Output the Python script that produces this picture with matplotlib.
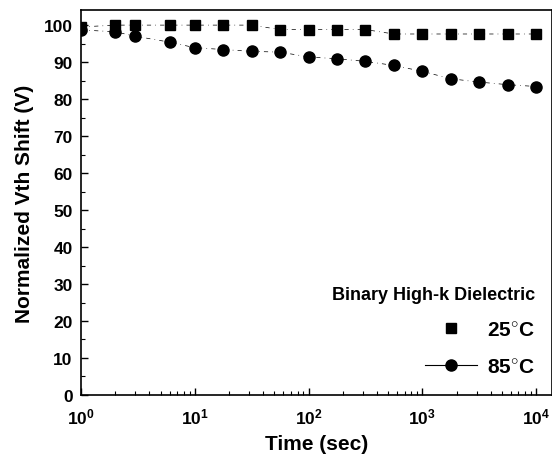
import numpy as np
import matplotlib.pyplot as plt
from matplotlib.lines import Line2D
from matplotlib.ticker import FuncFormatter, LogLocator, MultipleLocator

plt.rcParams['font.family'] = ['Liberation Sans', 'DejaVu Sans']
plt.rcParams['font.weight'] = 'bold'
plt.rcParams['mathtext.fontset'] = 'custom'
plt.rcParams['mathtext.rm'] = 'Liberation Sans:bold'
plt.rcParams['mathtext.bf'] = 'Liberation Sans:bold'
plt.rcParams['mathtext.default'] = 'bf'

# tiempos de medida (s)
tiempo = [1, 2, 3, 6, 10, 17.8, 31.6, 56.2, 100, 178, 316, 562, 1000, 1778, 3162, 5623, 10000]
# desplazamiento normalizado de Vth a 25 C y 85 C
vth_25 = [99.5, 100, 100, 100, 100, 100, 100, 98.8, 98.8, 98.8, 98.8, 97.6, 97.6, 97.6, 97.6, 97.6, 97.6]
vth_85 = [98.7, 98.2, 97.0, 95.4, 93.9, 93.4, 92.9, 92.7, 91.4, 90.9, 90.2, 89.1, 87.5, 85.5, 84.6, 83.9, 83.4]

fig = plt.figure(figsize=(5.52, 4.64), dpi=100)
ax = fig.add_axes([0.1467, 0.1466, 0.8533, 0.829])

estilo = dict(color='black', lw=0.5, ls=(0, (6, 6, 1, 6)))
ax.plot(tiempo, vth_25, marker='s', ms=6.5, mec='black', mfc='black', **estilo)
ax.plot(tiempo, vth_85, marker='o', ms=8, mec='black', mfc='black', **estilo)

ax.set_xscale('log')
ax.set_xlim(1, 13800)
ax.set_ylim(0, 104)

ax.yaxis.set_major_locator(MultipleLocator(10))
ax.yaxis.set_minor_locator(MultipleLocator(5))
ax.xaxis.set_major_locator(LogLocator(base=10))
ax.xaxis.set_minor_locator(LogLocator(base=10, subs=np.arange(2, 10)))
ax.xaxis.set_major_formatter(FuncFormatter(lambda v, p: r'$\mathbf{10^{%d}}$' % round(np.log10(v))))

ax.tick_params(which='both', direction='in', top=False, right=False, labelsize=12.5)
ax.tick_params(which='major', length=5, width=1)
ax.tick_params(which='minor', length=3, width=0.8)
ax.tick_params(axis='x', pad=8)
ax.tick_params(axis='y', pad=6)
for lab in ax.get_yticklabels():
    lab.set_fontweight('bold')

for s in ax.spines.values():
    s.set_linewidth(1.2)

ax.set_xlabel('Time (sec)', fontsize=15, fontweight='bold', labelpad=6)
ax.set_ylabel('Normalized Vth Shift (V)', fontsize=15, fontweight='bold', labelpad=7)

manejadores = [
    Line2D([], [], color='black', ls='none', marker='s', ms=6.5),
    Line2D([], [], color='black', lw=0.8, marker='o', ms=8),
]
leg = ax.legend(manejadores, [r'25$^{\circ}$C', r'85$^{\circ}$C'],
                title='Binary High-k Dielectric', loc='lower right',
                bbox_to_anchor=(1.004, 0.0), frameon=False,
                prop={'size': 15, 'weight': 'bold'}, handlelength=2.5,
                handletextpad=0.5, labelspacing=0.85, alignment='right')
leg.get_title().set_fontsize(13)
leg.get_title().set_fontweight('bold')

fig.savefig('out.png', dpi=100)
